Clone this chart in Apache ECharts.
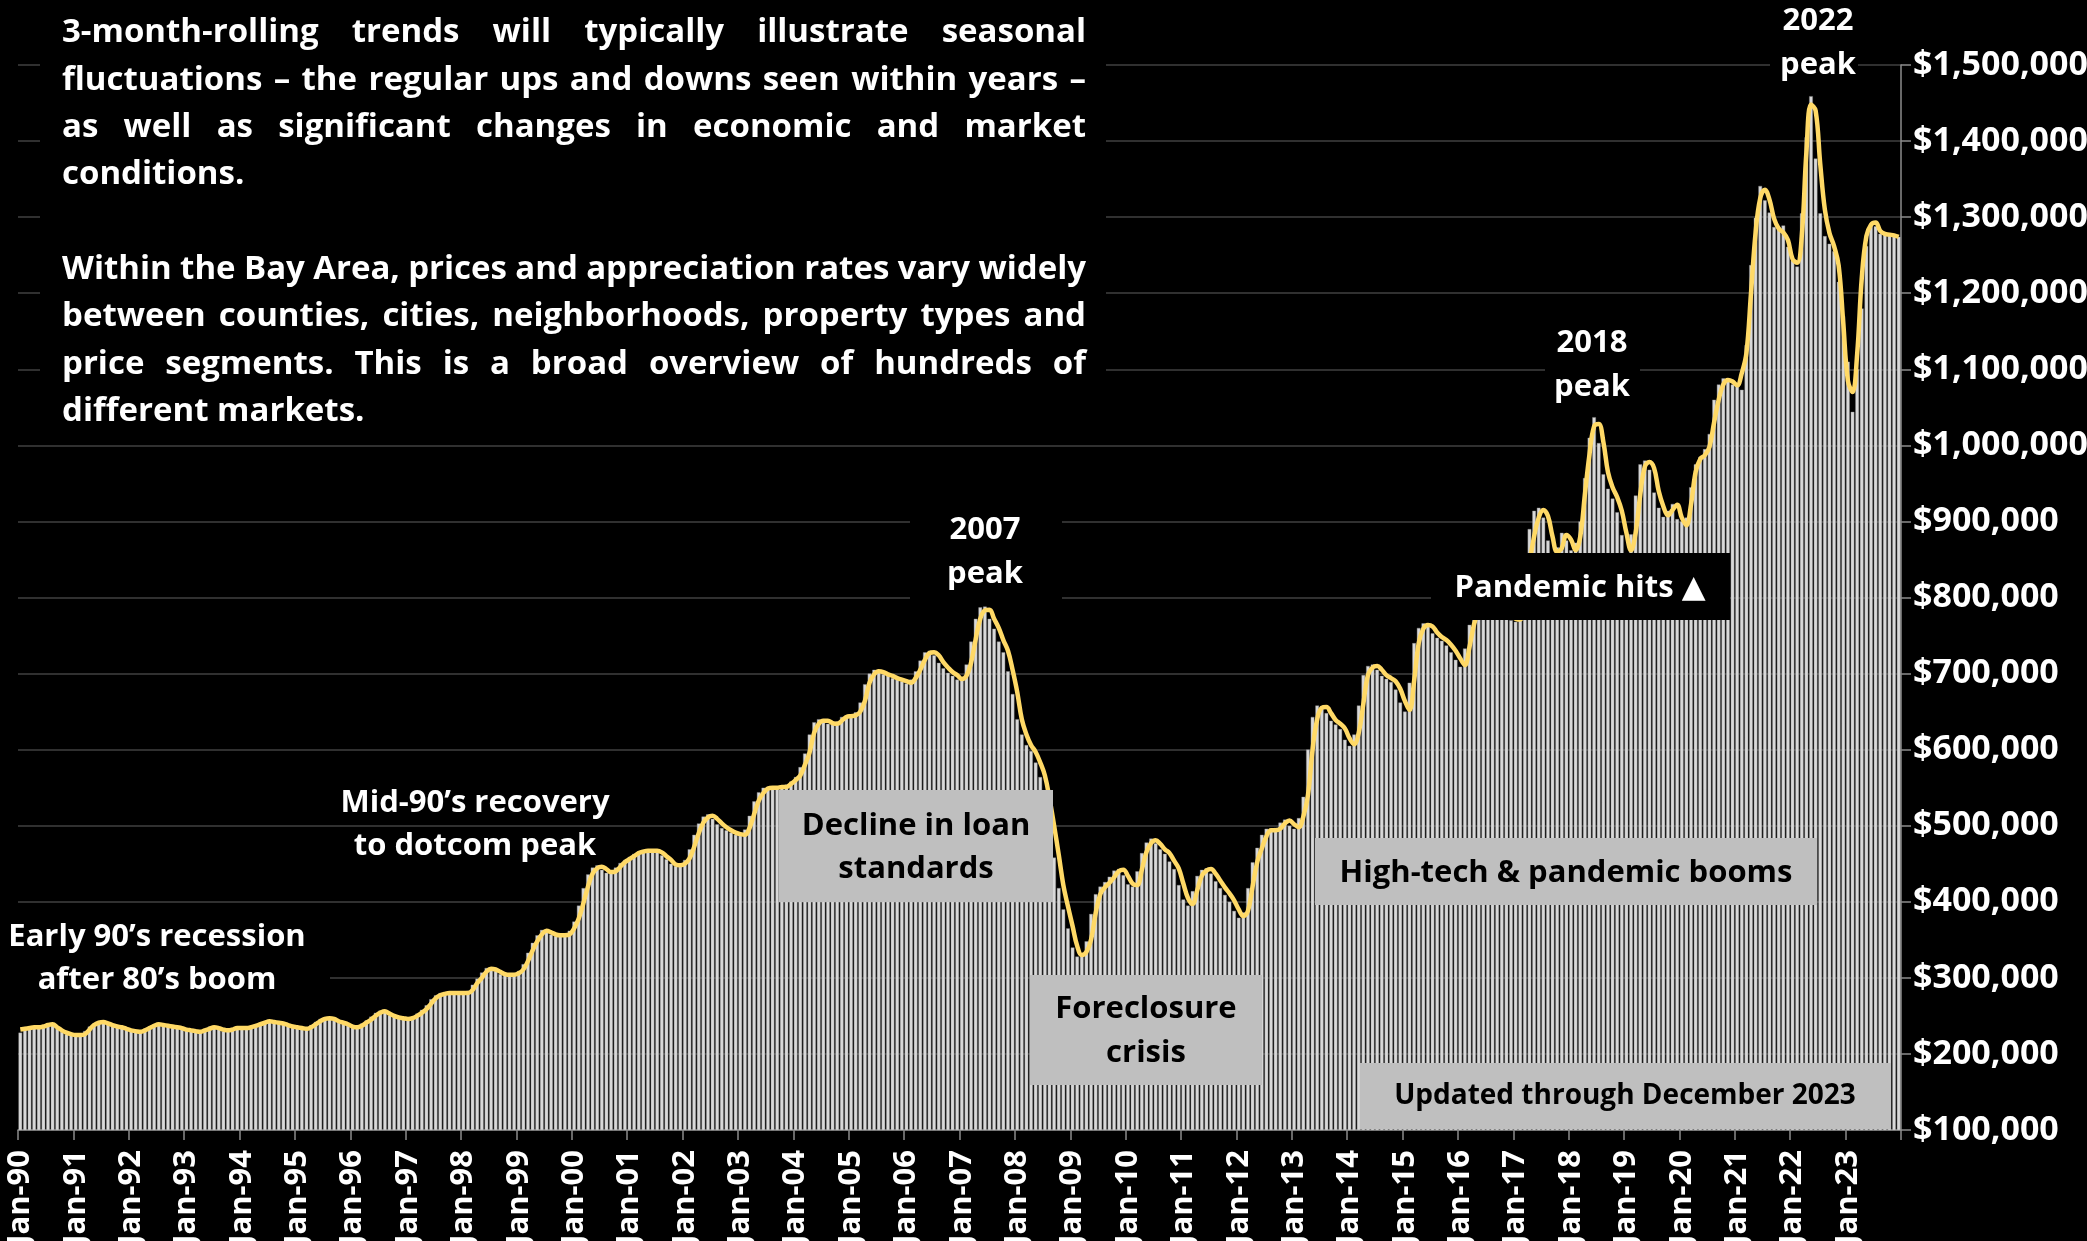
<!DOCTYPE html>
<html>
<head>
<meta charset="utf-8">
<script src="https://cdn.jsdelivr.net/npm/echarts@6/dist/echarts.min.js"></script>
<style>
  html, body { margin: 0; padding: 0; background: #000; }
  #chart { width: 2087px; height: 1241px; }
</style>
</head>
<body>
<div id="chart"></div>
<script>
// Bay Area median house price, monthly, Jan 1990 – Dec 2023 (thousands of dollars)
const firstYear = 1990;
const lastYear = 2023;
const monthNames = ['Jan','Feb','Mar','Apr','May','Jun','Jul','Aug','Sep','Oct','Nov','Dec'];

// Monthly median sales price (bars), one row per year
const monthlyPrice = [
  228,234,235,236,236,238,240,239,233,229,226,225,
  224,226,230,236,240,243,243,239,237,236,234,232,
  230,229,230,233,236,239,240,238,236,235,234,233,
  231,230,229,230,233,236,235,233,230,232,234,234,
  234,235,236,238,241,243,244,242,240,239,237,235,
  234,233,234,238,242,246,248,247,244,241,240,237,
  235,236,240,244,249,254,257,255,251,249,247,246,
  246,249,253,258,264,272,277,280,280,281,280,280,
  280,283,291,299,307,313,313,309,305,304,304,305,
  309,318,333,346,356,363,362,357,355,356,357,362,
  374,395,418,436,445,448,442,438,440,445,451,455,
  459,463,466,468,468,467,466,461,456,450,447,449,
  455,469,488,503,512,515,509,502,497,494,491,488,
  487,495,513,532,544,550,551,550,551,552,554,558,
  564,577,595,620,636,640,637,634,633,637,643,645,
  645,649,662,686,700,705,702,699,697,694,692,690,
  687,692,703,717,728,730,724,714,707,701,697,692,
  695,712,742,772,787,788,772,759,742,728,703,673,
  640,620,606,598,583,564,534,497,458,418,390,365,
  340,328,332,348,384,410,420,426,433,441,443,435,
  423,420,440,464,478,483,477,469,463,453,443,422,
  403,395,414,434,442,444,437,427,418,409,400,388,
  379,386,418,452,471,488,496,495,497,504,508,500,
  496,510,538,600,643,658,657,648,638,633,627,613,
  605,620,658,698,710,712,705,697,693,689,679,662,
  650,688,740,760,766,762,753,747,743,737,728,718,
  709,733,764,783,802,814,816,807,797,787,775,770,
  768,800,850,890,914,918,905,875,858,866,885,875,
  862,872,900,957,1010,1037,1003,962,943,930,912,882,
  858,883,934,975,980,968,938,918,906,914,923,903,
  900,905,945,975,985,995,1015,1060,1080,1088,1086,1080,
  1079,1073,1132,1237,1299,1341,1322,1306,1287,1287,1289,1261,
  1243,1235,1305,1405,1459,1377,1305,1275,1265,1255,1215,1170,
  1110,1044,1100,1180,1262,1291,1288,1278,1277,1276,1275,1274
];

// 3-month rolling median price (line), one row per year
const rollingPrice = [
  232,233,234,235,235,236,238,239,235,231,228,226,
  225,225,226,232,238,241,242,240,238,236,235,233,
  231,230,229,231,234,237,239,238,237,236,235,234,
  232,231,230,229,231,233,235,234,232,231,232,234,
  234,234,235,237,239,241,243,242,241,240,238,236,
  235,234,233,235,239,243,246,247,246,243,241,239,
  236,235,237,241,245,250,254,256,253,250,248,247,
  246,247,250,254,259,266,273,277,279,280,280,280,
  280,280,284,293,300,308,312,311,308,305,304,304,
  306,311,322,336,348,357,362,360,357,356,356,357,
  365,378,398,420,437,444,446,443,439,440,446,452,
  456,460,464,466,467,467,467,465,460,455,449,448,
  450,457,472,490,504,511,513,509,503,498,494,491,
  489,488,497,515,533,543,549,550,550,551,551,555,
  560,566,580,596,622,634,638,638,635,634,638,643,
  644,645,650,664,688,699,703,702,699,697,694,692,
  690,688,694,705,718,727,728,724,715,708,702,698,
  693,697,714,745,772,783,784,772,760,744,730,705,
  676,640,620,606,597,583,566,536,500,462,422,394,
  368,342,330,334,350,385,410,419,425,432,440,442,
  434,424,422,442,465,477,481,476,469,464,454,444,
  424,405,397,415,434,441,443,437,428,419,411,402,
  390,381,388,420,452,470,486,494,494,496,503,507,
  502,498,512,540,600,640,655,656,648,639,634,628,
  615,607,622,660,698,708,710,705,698,694,690,680,
  664,652,690,740,759,764,762,754,748,744,738,730,
  720,711,735,765,782,800,812,815,808,798,788,776,
  772,771,800,845,880,905,915,907,880,860,865,882,
  876,862,880,935,988,1025,1028,1005,965,945,932,914,
  885,862,885,935,972,978,970,940,920,908,915,922,
  905,895,922,965,982,987,998,1030,1060,1080,1086,1084,
  1079,1095,1121,1200,1280,1325,1336,1323,1298,1285,1280,1270,
  1245,1240,1275,1385,1448,1440,1370,1310,1279,1262,1236,1160,
  1085,1070,1120,1220,1275,1290,1293,1282,1278,1277,1276,1274
];

// Value axis range and step (dollars)
const yMin = 100000;
const yMax = 1500000;
const yStep = 100000;

// Text blocks
const introLines = [
  { text: '3-month-rolling trends will typically illustrate seasonal', justify: true },
  { text: 'fluctuations \u2013 the regular ups and downs seen within years \u2013', justify: true },
  { text: 'as well as significant changes in economic and market', justify: true },
  { text: 'conditions.', justify: false },
  { text: '', justify: false },
  { text: 'Within the Bay Area, prices and appreciation rates vary widely', justify: true },
  { text: 'between counties, cities, neighborhoods, property types and', justify: true },
  { text: 'price segments. This is a broad overview of hundreds of', justify: true },
  { text: 'different markets.', justify: false }
];

const categories = [];
for (let y = firstYear; y <= lastYear; y++) {
  for (const m of monthNames) categories.push(m + '-' + String(y % 100).padStart(2, '0'));
}
const barData = monthlyPrice.map(v => v * 1000);
const lineData = rollingPrice.map(v => v * 1000);

const FONT = '"Open Sans", "Noto Sans", "DejaVu Sans", sans-serif';
const paraFont = 'bold 33px ' + FONT;
const labelFont = 'bold 31px ' + FONT;
const smallLabelFont = 'bold 28px ' + FONT;

// Justified paragraph lines, laid out word by word
const ctx = document.createElement('canvas').getContext('2d');
ctx.font = paraFont;
const paraLeft = 62, paraRight = 1086, paraTop = 33, paraLineH = 47.3;
const graphics = [];
graphics.push({ type: 'rect', z: 90, shape: { x: 40, y: 0, width: 1066, height: 432 }, style: { fill: '#000' } });
introLines.forEach((ln, idx) => {
  const y = paraTop + idx * paraLineH;
  if (!ln.text) return;
  if (!ln.justify) {
    graphics.push({ type: 'text', z: 95, style: { text: ln.text, x: paraLeft, y, font: paraFont, fill: '#fff', textAlign: 'left', textVerticalAlign: 'middle' } });
    return;
  }
  const words = ln.text.split(' ');
  const widths = words.map(w => ctx.measureText(w).width);
  const total = widths.reduce((a, b) => a + b, 0);
  const gap = (paraRight - paraLeft - total) / (words.length - 1);
  let x = paraLeft;
  words.forEach((w, k) => {
    graphics.push({ type: 'text', z: 95, style: { text: w, x, y, font: paraFont, fill: '#fff', textAlign: 'left', textVerticalAlign: 'middle' } });
    x += widths[k] + gap;
  });
});

function addBox(x, y, w, h, fill) {
  graphics.push({ type: 'rect', z: 90, shape: { x, y, width: w, height: h }, style: { fill } });
}
function addLabel(lines, cx, y0, lh, color, font) {
  lines.forEach((t, k) => {
    graphics.push({ type: 'text', z: 95, style: { text: t, x: cx, y: y0 + k * lh, font: font || labelFont, fill: color, textAlign: 'center', textVerticalAlign: 'middle' } });
  });
}

addBox(0, 910, 330, 92, '#000');
addLabel(['Early 90\u2019s recession', 'after 80\u2019s boom'], 157, 937, 43.5, '#fff');

addLabel(['Mid-90\u2019s recovery', 'to dotcom peak'], 475, 803, 43.5, '#fff');

addBox(910, 500, 152, 100, '#000');
addLabel(['2007', 'peak'], 985, 530, 44, '#fff');

addBox(1545, 316, 95, 92, '#000');
addLabel(['2018', 'peak'], 1592, 343, 44, '#fff');

addBox(1770, 0, 88, 84, '#000');
addLabel(['2022', 'peak'], 1818, 21, 44, '#fff');

addBox(779, 790, 274, 112, '#bfbfbf');
addLabel(['Decline in loan', 'standards'], 916, 826, 43.5, '#000');

addBox(1030, 975, 232, 110, '#bfbfbf');
addLabel(['Foreclosure', 'crisis'], 1146, 1009, 44, '#000');

addBox(1315, 838, 502, 67, '#bfbfbf');
addLabel(['High-tech & pandemic booms'], 1566, 873, 44, '#000');

addBox(1360, 1063, 531, 66, '#bfbfbf');
addLabel(['Updated through December 2023'], 1625, 1096, 44, '#000', smallLabelFont);

addBox(1431, 553, 299, 67, '#000');
addLabel(['Pandemic hits \u25B2'], 1580, 588, 44, '#fff');

const chart = echarts.init(document.getElementById('chart'), null, { renderer: 'canvas' });
chart.setOption({
  backgroundColor: '#000',
  animation: false,
  grid: { left: 18, right: 186, top: 65, bottom: 111, containLabel: false, outerBoundsMode: 'none' },
  xAxis: {
    type: 'category',
    data: categories,
    boundaryGap: true,
    axisLine: { show: true, lineStyle: { color: '#8c8c8c', width: 1.5 } },
    axisTick: { show: true, interval: 11, length: 10, lineStyle: { color: '#8c8c8c', width: 1.5 } },
    axisLabel: {
      interval: 11, rotate: 90, margin: 20, hideOverlap: false,
      color: '#fff', fontFamily: FONT, fontWeight: 'bold', fontSize: 31
    },
    splitLine: { show: false }
  },
  yAxis: {
    type: 'value',
    position: 'right',
    min: yMin, max: yMax, interval: yStep,
    axisLine: { show: true, lineStyle: { color: '#8c8c8c', width: 1.5 } },
    axisTick: { show: true, length: 10, lineStyle: { color: '#8c8c8c', width: 1.5 } },
    axisLabel: {
      margin: 12, color: '#fff', fontFamily: FONT, fontWeight: 'bold', fontSize: 34,
      formatter: v => '$' + v.toLocaleString('en-US')
    },
    splitLine: { show: true, lineStyle: { color: '#404040', width: 1.5 } }
  },
  series: [
    {
      type: 'bar',
      data: barData,
      barCategoryGap: '22%',
      itemStyle: { color: '#d9d9d9', borderColor: '#8a8a8a', borderWidth: 0.4 },
      z: 2
    },
    {
      type: 'line',
      data: lineData,
      smooth: 0.4,
      showSymbol: false,
      lineStyle: { color: '#ffd966', width: 4.5 },
      z: 3
    }
  ],
  graphic: { elements: graphics }
});
</script>
</body>
</html>
